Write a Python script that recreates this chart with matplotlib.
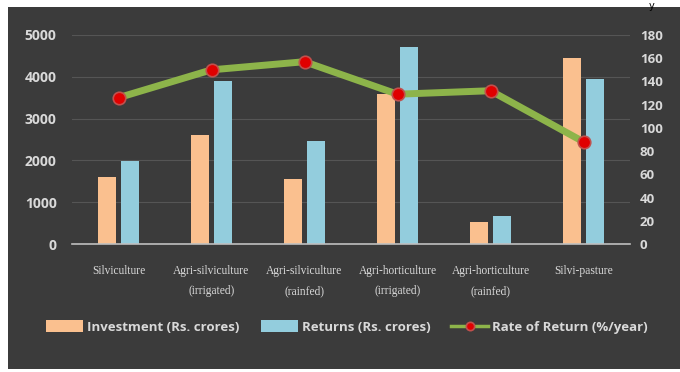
import matplotlib.pyplot as plt
import numpy as np
from matplotlib.patches import Rectangle

categories = ["Silviculture", "Agri-silviculture\n(irrigated)", "Agri-silviculture\n(rainfed)",
              "Agri-horticulture\n(irrigated)", "Agri-horticulture\n(rainfed)", "Silvi-pasture"]
investment = [1600, 2600, 1560, 3600, 530, 4450]
returns = [1980, 3900, 2460, 4710, 670, 3950]
rate_of_return = [126, 150, 157, 129, 132, 88]

bg = "#3b3b3b"
tick_col = "#d9d9d9"

fig = plt.figure(figsize=(6.8, 3.72), dpi=100)
fig.patch.set_facecolor("white")
fig.patches.append(Rectangle((8 / 680, 3 / 372), 1, 1 - 10 / 372, transform=fig.transFigure,
                             facecolor=bg, edgecolor="none", zorder=-5))

ax = fig.add_axes([72 / 680, 1 - 244 / 372, 558 / 680, 209 / 372])
ax.set_facecolor(bg)
x = np.arange(len(categories))
w = 0.2
ax.bar(x - 0.125, investment, w, color="#fac08f", label="Investment (Rs. crores)", zorder=2)
ax.bar(x + 0.125, returns, w, color="#93cddd", label="Returns (Rs. crores)", zorder=2)
ax.set_ylim(0, 5000)
ax.set_xlim(-0.5, len(categories) - 0.5)
ax.set_yticks(range(0, 5001, 1000))
ax.grid(axis="y", color="#555555", linewidth=0.8, zorder=0)
for s in ["top", "right", "left"]:
    ax.spines[s].set_visible(False)
ax.spines["bottom"].set_color("#bfbfbf")
ax.spines["bottom"].set_linewidth(1.2)
ax.tick_params(axis="both", length=0, colors=tick_col)
ax.tick_params(axis="y", pad=11)
for t in ax.get_yticklabels():
    t.set_fontweight("bold")
    t.set_fontsize(10)
    t.set_fontfamily("Open Sans")
ax.set_xticks(x)
ax.set_xticklabels(categories, fontsize=8.3, fontfamily="Liberation Serif", color=tick_col,
                   linespacing=1.9)
ax.tick_params(axis="x", pad=15)

ax2 = ax.twinx()
ax2.plot(x, rate_of_return, color="#8db44a", linewidth=5, marker="o", markersize=9,
         markerfacecolor="#e00000", markeredgecolor="#c0504d", markeredgewidth=1.2,
         label="Rate of Return (%/year)", zorder=3)
ax2.set_ylim(0, 180)
ax2.set_yticks(range(0, 181, 20))
for s in ax2.spines.values():
    s.set_visible(False)
ax2.tick_params(axis="y", length=0, colors=tick_col, pad=7)
for t in ax2.get_yticklabels():
    t.set_fontweight("bold")
    t.set_fontsize(9.5)
    t.set_fontfamily("Open Sans")

h1, l1 = ax.get_legend_handles_labels()
h2, l2 = ax2.get_legend_handles_labels()
leg = fig.legend(h1 + h2, l1 + l2, loc="center", bbox_to_anchor=(347 / 680, 1 - 327 / 372),
                 ncol=3, frameon=False, handlelength=2.8, handleheight=1.0, columnspacing=1.6,
                 handletextpad=0.3,
                 prop={"family": "Open Sans", "weight": "bold", "size": 9.5})
for t in leg.get_texts():
    t.set_color(tick_col)
leg.legend_handles[2].set_markersize(6)
leg.legend_handles[2].set_linewidth(2.5)

fig.text(652 / 680, 1 - 1 / 372, "y", fontsize=7, color="black", ha="center", va="top")

fig.savefig("out.png", dpi=100, facecolor=fig.get_facecolor())
